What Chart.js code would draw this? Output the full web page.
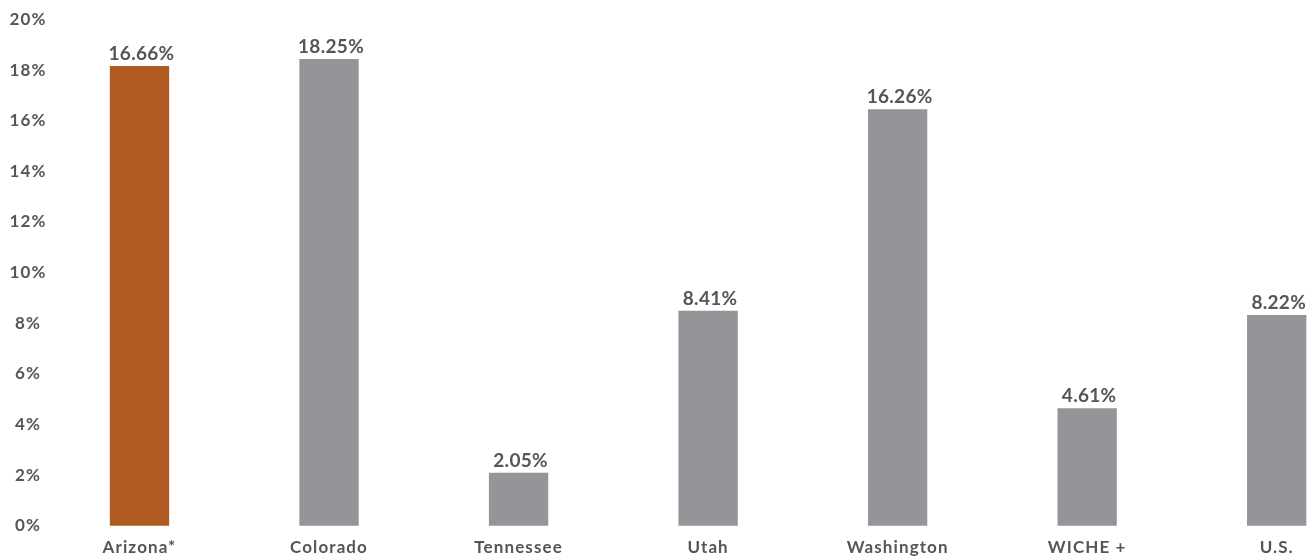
<!DOCTYPE html>
<html>
<head>
<meta charset="utf-8">
<script src="https://cdn.jsdelivr.net/npm/chart.js@4.4.1/dist/chart.umd.min.js"></script>
<style>
  html, body { margin: 0; padding: 0; background: #fff; }
  #wrap { width: 1315px; height: 560px; position: relative; }
</style>
</head>
<body>
<div id="wrap"><canvas id="chart"></canvas></div>
<script>
const categories = ['Arizona*', 'Colorado', 'Tennessee', 'Utah', 'Washington', 'WICHE +', 'U.S.'];
// bar heights as drawn in the picture (the printed labels differ a little)
const barValues = [18.16, 18.44, 2.09, 8.49, 16.45, 4.64, 8.32];
const valueLabels = ['16.66%', '18.25%', '2.05%', '8.41%', '16.26%', '4.61%', '8.22%'];
const yTicks = [0, 2, 4, 6, 8, 10, 12, 14, 16, 18, 20];
const barColors = ['#B05A22', '#939598', '#939598', '#939598', '#939598', '#939598', '#939598'];

const textColor = '#555659';
const fontFamily = 'Lato, "Open Sans", sans-serif';
const yTickFont = { family: fontFamily, size: 17, weight: '700' };
const xTickFont = { family: fontFamily, size: 17, weight: '700' };
const spacing = '1.1px';

// centre the y tick labels in a column like the original
const mctx = document.createElement('canvas').getContext('2d');
mctx.font = `700 ${yTickFont.size}px ${fontFamily}`;
mctx.letterSpacing = spacing;
const widest = Math.max(...yTicks.map(v => mctx.measureText(v + '%').width));
const yAxisWidth = 139.5;
const labelCentre = 28;

// the original type is wide and a bit tracked
const trackingPlugin = {
  id: 'tracking',
  beforeUpdate(chart) { chart.ctx.letterSpacing = spacing; },
  beforeDraw(chart) { chart.ctx.letterSpacing = spacing; }
};

const valueLabelPlugin = {
  id: 'valueLabels',
  afterDatasetsDraw(chart) {
    const ctx = chart.ctx;
    const meta = chart.getDatasetMeta(0);
    ctx.save();
    ctx.letterSpacing = '0.3px';
    ctx.font = `700 19px ${fontFamily}`;
    ctx.fillStyle = textColor;
    ctx.textAlign = 'center';
    ctx.textBaseline = 'alphabetic';
    meta.data.forEach((bar, i) => {
      ctx.fillText(valueLabels[i], bar.x + 2, bar.y - 6);
    });
    ctx.restore();
  }
};

new Chart(document.getElementById('chart'), {
  type: 'bar',
  data: {
    labels: categories,
    datasets: [{
      data: barValues,
      backgroundColor: barColors,
      borderWidth: 0,
      categoryPercentage: 1,
      barPercentage: 0.313,
      clip: false
    }]
  },
  options: {
    responsive: true,
    maintainAspectRatio: false,
    animation: false,
    layout: { padding: { top: 19.5, right: 38.3, bottom: 0, left: 0 } },
    plugins: {
      legend: { display: false },
      tooltip: { enabled: false }
    },
    scales: {
      x: {
        offset: false,
        grid: { display: false, drawTicks: false },
        border: { display: false },
        afterFit: axis => { axis.height = 34.3; },
        ticks: {
          color: textColor,
          font: xTickFont,
          padding: 12,
          maxRotation: 0,
          autoSkip: false
        }
      },
      y: {
        min: 0,
        max: 20,
        grid: { display: false, drawTicks: false },
        border: { display: false },
        afterBuildTicks: axis => { axis.ticks = yTicks.map(v => ({ value: v })); },
        afterFit: axis => {
          axis.width = yAxisWidth;
          // the big label padding should not push the plot down
          axis.paddingTop = 0;
          axis.paddingBottom = 0;
        },
        ticks: {
          color: textColor,
          font: yTickFont,
          crossAlign: 'center',
          padding: yAxisWidth - labelCentre - widest / 2,
          callback: v => v + '%'
        }
      }
    }
  },
  plugins: [trackingPlugin, valueLabelPlugin]
});
</script>
</body>
</html>
